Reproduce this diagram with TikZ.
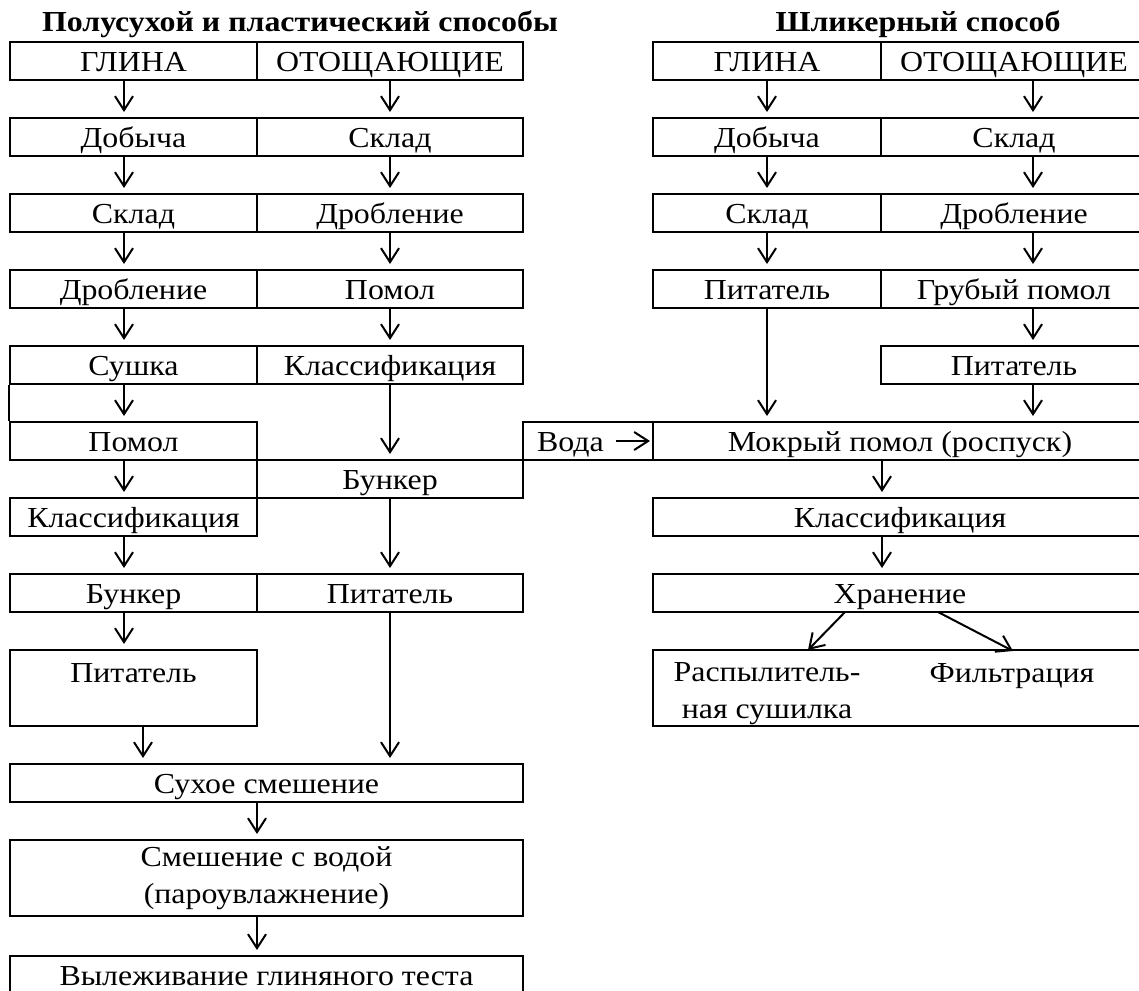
\documentclass[tikz,border=0pt]{standalone}
\usepackage{fontspec}
\setmainfont{Liberation Serif}[FakeStretch=1.1]
\usetikzlibrary{arrows.meta,calc}

\begin{document}
\begin{tikzpicture}[x=1pt, y=-1pt,
  every node/.style={inner sep=0pt, font=\fontsize{29}{37}\selectfont},
  blk/.style={draw, line width=2pt, minimum height=38pt, text height=22pt, text depth=2pt},
  wa/.style={blk, minimum width=247pt},
  wb/.style={blk, minimum width=266pt},
  wf/.style={blk, minimum width=513pt},
  wra/.style={blk, minimum width=228pt},
  wrf/.style={blk, minimum width=494pt},
  arr/.style={line width=2pt, -{Straight Barb[length=14pt, width=18pt]}, shorten >=5pt},
  ttl/.style={anchor=base, font=\bfseries\fontsize{29}{37}\selectfont}]
\useasboundingbox (0,0) rectangle (1139,990);

\node[ttl] (t0) at (300,32){Полусухой и пластический способы};
\node[ttl] (t1) at (918,32){Шликерный способ};

\node[wa] (la0) at (133.5,61){ГЛИНА};
\node[wb] (lb0) at (390,61){ОТОЩАЮЩИЕ};
\node[wa] (la1) at (133.5,137){Добыча};
\node[wb] (lb1) at (390,137){Склад};
\node[wa] (la2) at (133.5,213){Склад};
\node[wb] (lb2) at (390,213){Дробление};
\node[wa] (la3) at (133.5,289){Дробление};
\node[wb] (lb3) at (390,289){Помол};
\node[wa] (la4) at (133.5,365){Сушка};
\node[wb] (lb4) at (390,365){Классификация};
\node[wa] (la5) at (133.5,441){Помол};
\node[wb] (lb5) at (390,479){Бункер};
\node[wa] (la6) at (133.5,517){Классификация};
\node[wa] (la7) at (133.5,593){Бункер};
\node[wb] (lb7) at (390,593){Питатель};
\node[wa, minimum height=76pt, text depth=34pt] (la8) at (133.5,688){Питатель};
\node[wf] (lc0) at (266.5,783){Сухое смешение};
\node[draw, line width=2pt, minimum width=513pt, minimum height=76pt, align=center] (lc1) at (266.5,878){Смешение с водой\\(пароувлажнение)};
\node[wf, minimum height=46pt, text depth=10pt] (lc2) at (266.5,979){Вылеживание глиняного теста};

\node[wra] (ra0) at (767,61){ГЛИНА};
\node[wb] (rb0) at (1014,61){ОТОЩАЮЩИЕ};
\node[wra] (ra1) at (767,137){Добыча};
\node[wb] (rb1) at (1014,137){Склад};
\node[wra] (ra2) at (767,213){Склад};
\node[wb] (rb2) at (1014,213){Дробление};
\node[wra] (ra3) at (767,289){Питатель};
\node[wb] (rb3) at (1014,289){Грубый помол};
\node[wb] (rb4) at (1014,365){Питатель};
\node[blk, minimum width=130pt] (rv) at (588,441){};
\node[text height=22pt, text depth=2pt] (rvt) at (570.5,441){Вода};
\node[wrf] (rm) at (900,441){Мокрый помол (роспуск)};
\node[wrf] (rk) at (900,517){Классификация};
\node[wrf] (rh) at (900,593){Хранение};
\node[wrf, minimum height=76pt] (rs) at (900,688){};
\node[align=center] (rs1) at (767,694){Распылитель-\\ная сушилка};
\node[text height=22pt, text depth=2pt] (rs2) at (1012,672){Фильтрация};
\coordinate (h1) at (845,612);
\coordinate (h2) at (938,612);
\coordinate (s1) at (808,650);
\coordinate (s2) at (1013,651);

\draw[arr] ([xshift=-9.5pt]la0.south) -- ([xshift=-9.5pt]la1.north);
\draw[arr] ([xshift=-9.5pt]la1.south) -- ([xshift=-9.5pt]la2.north);
\draw[arr] ([xshift=-9.5pt]la2.south) -- ([xshift=-9.5pt]la3.north);
\draw[arr] ([xshift=-9.5pt]la3.south) -- ([xshift=-9.5pt]la4.north);
\draw[arr] ([xshift=-9.5pt]la4.south) -- ([xshift=-9.5pt]la5.north);
\draw[arr] ([xshift=-9.5pt]la5.south) -- ([xshift=-9.5pt]la6.north);
\draw[arr] ([xshift=-9.5pt]la6.south) -- ([xshift=-9.5pt]la7.north);
\draw[arr] ([xshift=-9.5pt]la7.south) -- ([xshift=-9.5pt]la8.north);
\draw[line width=2pt] (la4.south west) -- (la5.north west);
\draw[arr] (lb0.south) -- (lb1.north);
\draw[arr] (lb1.south) -- (lb2.north);
\draw[arr] (lb2.south) -- (lb3.north);
\draw[arr] (lb3.south) -- (lb4.north);
\draw[arr] (lb4.south) -- (lb5.north);
\draw[arr] (lb5.south) -- (lb7.north);
\draw[arr] ([xshift=9.5pt]la8.south) -- ($(la8.south |- lc0.north)+(9.5,0)$);
\draw[arr] (lb7.south) -- (lb7.south |- lc0.north);
\draw[arr] ([xshift=-9.5pt]lc0.south) -- ([xshift=-9.5pt]lc1.north);
\draw[arr] ([xshift=-9.5pt]lc1.south) -- ([xshift=-9.5pt]lc2.north);

\draw[arr] (ra0.south) -- (ra1.north);
\draw[arr] (ra1.south) -- (ra2.north);
\draw[arr] (ra2.south) -- (ra3.north);
\draw[arr] (ra3.south) -- (ra3.south |- rm.north);
\draw[arr] ([xshift=19pt]rb0.south) -- ([xshift=19pt]rb1.north);
\draw[arr] ([xshift=19pt]rb1.south) -- ([xshift=19pt]rb2.north);
\draw[arr] ([xshift=19pt]rb2.south) -- ([xshift=19pt]rb3.north);
\draw[arr] ([xshift=19pt]rb3.south) -- ([xshift=19pt]rb4.north);
\draw[arr] ([xshift=19pt]rb4.south) -- ($(rb4.south |- rm.north)+(19,0)$);
\draw[arr, shorten <=12pt, shorten >=2pt] (rvt.east) -- (rm.west);
\draw[arr] ([xshift=-18pt]rm.south) -- ([xshift=-18pt]rk.north);
\draw[arr] ([xshift=-18pt]rk.south) -- ([xshift=-18pt]rh.north);
\draw[arr, shorten >=0pt] (h1) -- (s1);
\draw[arr, shorten >=0pt] (h2) -- (s2);

\end{tikzpicture}
\end{document}
